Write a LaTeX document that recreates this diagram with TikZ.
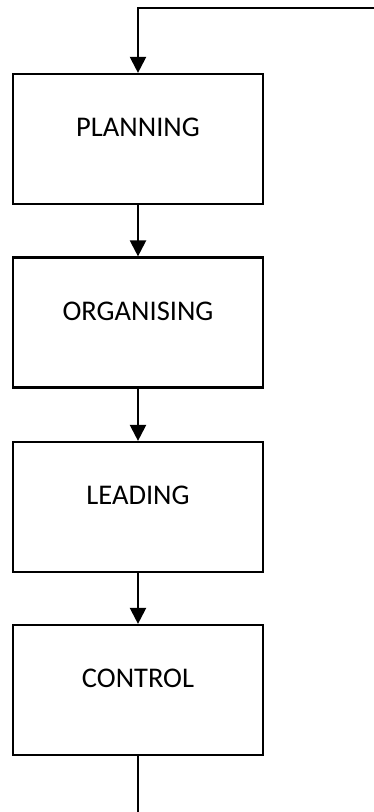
\documentclass[tikz,border=0pt]{standalone}
\usepackage{fontspec}
\setmainfont{Carlito}
\usetikzlibrary{arrows.meta}
\begin{document}
\begin{tikzpicture}[x=1pt,y=1pt,
  stage/.style={draw=black, line width=2.2pt, fill=white, minimum width=250pt, minimum height=130pt,
    inner sep=0pt, text height=20pt, text depth=25pt, font=\fontsize{28.5}{30}\selectfont},
  flow/.style={line width=2.2pt, -{Triangle[width=16pt,length=16pt]}},
  plain/.style={line width=2.2pt}]
\useasboundingbox (0,0) rectangle (374,-812);
\node[stage] (plan) at (138,-139) {PLANNING};
\node[stage] (org) at (138,-322.5) {ORGANISING};
\node[stage] (lead) at (138,-507) {LEADING};
\node[stage] (ctrl) at (138,-690) {CONTROL};
\coordinate (fb) at (376,-8);
\coordinate (fbc) at (138,-8);
\coordinate (out) at (138,-814);
\draw[flow] (fb) -- (fbc) -- (plan.north);
\draw[flow] (plan) -- (org);
\draw[flow] (org) -- (lead);
\draw[flow] (lead) -- (ctrl);
\draw[plain] (ctrl) -- (out);
\end{tikzpicture}
\end{document}
